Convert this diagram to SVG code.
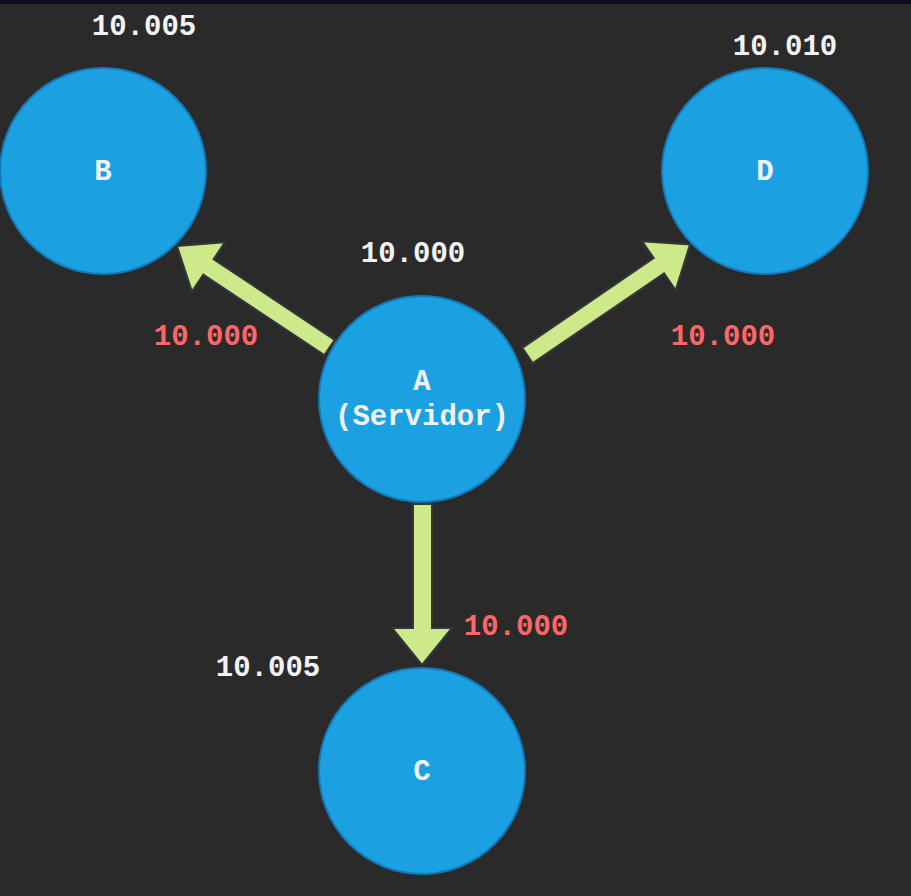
<svg xmlns="http://www.w3.org/2000/svg" width="911" height="896" viewBox="0 0 911 896">
<style>
.node{fill:#1ba1e2;stroke:#1479b8;stroke-width:2}
.arrow{fill:#cde98a;stroke:#33383c;stroke-width:2;stroke-linejoin:miter}
text{font-family:"Liberation Mono","DejaVu Sans Mono",monospace;font-weight:bold;font-size:29px;text-anchor:middle}
.w{fill:#f2f2f2}
.r{fill:#ff6666}
</style>
<rect x="0" y="0" width="911" height="896" fill="#2a2a2a"/>
<rect x="0" y="0" width="911" height="4" fill="#0b0f1f"/>
<g id="connectors">
<polygon class="arrow" points="334.7,339.8 213.6,259.2 224.9,242.2 177,246 191.9,291.6 203.3,274.6 324.3,355.2"/>
<polygon class="arrow" points="532.8,363.2 664.1,273.5 675.7,290.3 690,244.5 642.1,241.3 653.7,258.1 522.3,347.8"/>
<polygon class="arrow" points="413,504 413,628 392,628 422,665 452,628 432,628 432,504"/>
<text class="r" x="206" y="345">10.000</text>
<text class="r" x="723" y="345">10.000</text>
<text class="r" x="516" y="635">10.000</text>
</g>
<g id="node-B">
<circle class="node" cx="103" cy="171" r="103"/>
<text class="w" x="103" y="180">B</text>
<text class="w" x="144" y="35">10.005</text>
</g>
<g id="node-D">
<circle class="node" cx="765" cy="171" r="103"/>
<text class="w" x="765" y="180">D</text>
<text class="w" x="785" y="55">10.010</text>
</g>
<g id="node-A">
<circle class="node" cx="422" cy="399" r="103"/>
<text class="w" x="422" y="390">A</text>
<text class="w" x="422" y="425">(Servidor)</text>
<text class="w" x="413" y="262">10.000</text>
</g>
<g id="node-C">
<circle class="node" cx="422" cy="771" r="103"/>
<text class="w" x="422" y="780">C</text>
<text class="w" x="268" y="676">10.005</text>
</g>
</svg>
